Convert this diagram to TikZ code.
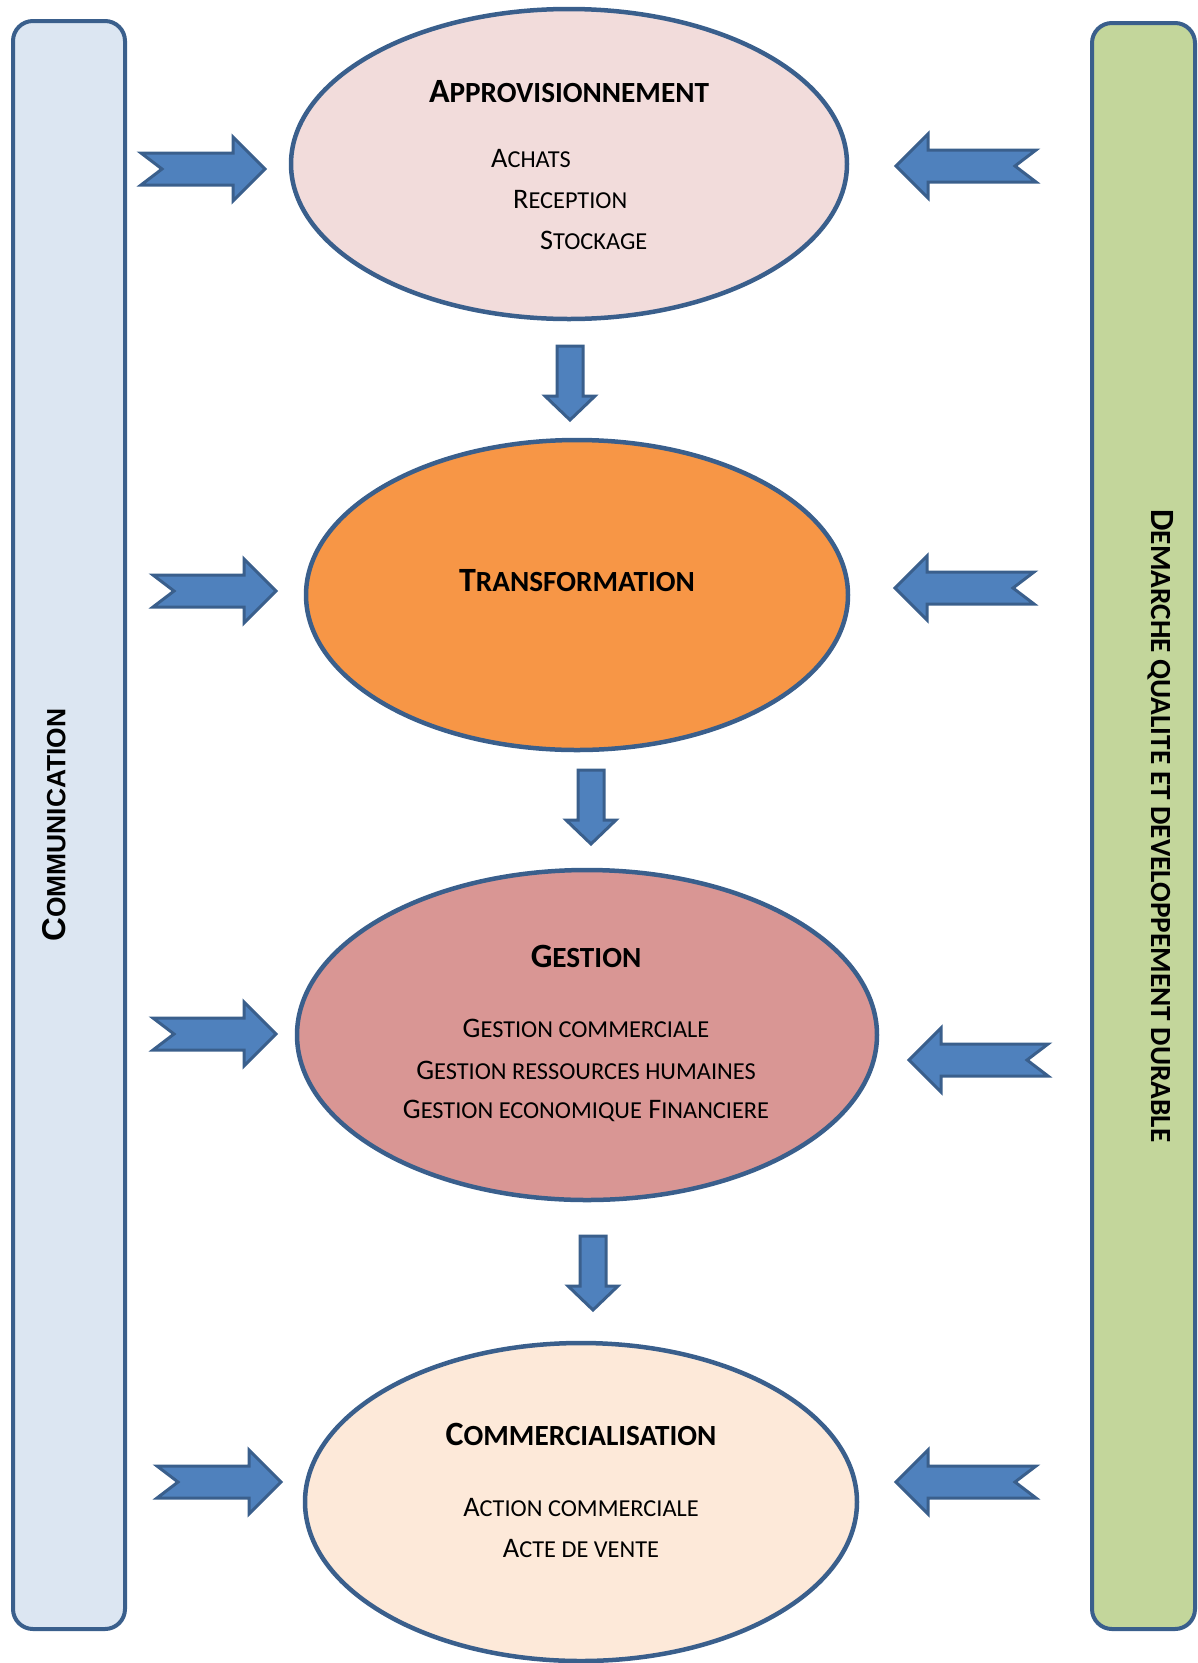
\documentclass[tikz,border=0pt]{standalone}
\usepackage{fontspec}
\setmainfont{Carlito}
\newfontfamily\arialfont{Liberation Sans}
\usetikzlibrary{shapes.geometric}

\definecolor{edgeblue}{HTML}{3A5F8C}
\definecolor{arrowfill}{HTML}{4F81BD}
\definecolor{barblue}{HTML}{DCE6F2}
\definecolor{bargreen}{HTML}{C3D69B}
\definecolor{approfill}{HTML}{F2DCDB}
\definecolor{transfofill}{HTML}{F79646}
\definecolor{gestfill}{HTML}{D99694}
\definecolor{commfill}{HTML}{FDE9D9}

% fake small capitals: first letter, then the rest smaller
\newcommand\fsc[3][0.86]{#2\scalebox{#1}{#3}}

\begin{document}
\begin{tikzpicture}
    [%%%%%%%%%%%%%%%%%%%%%%%%%%%%%%
        x=1pt,y=-1pt,
        sidebar/.style={draw=edgeblue,line width=4pt,rounded corners=20pt},
        stage/.style={ellipse,draw=edgeblue,line width=4.5pt,inner sep=0pt},
        arrowbody/.style={draw=edgeblue,fill=arrowfill,line width=3pt,line join=miter},
        head/.style={font=\fontsize{34}{39}\selectfont\bfseries,inner sep=0pt},
        item/.style={font=\fontsize{28.3}{33}\selectfont,inner sep=0pt},
        pics/notched/.style={code={
            \draw[arrowbody] (0,-16) -- (21,0) -- (0,16) -- (#1-32,16) -- (#1-32,32)
                -- (#1,0) -- (#1-32,-32) -- (#1-32,-16) -- cycle;}},
        pics/downarrow/.style={code={
            \draw[arrowbody] (-13,0) -- (13,0) -- (13,50) -- (25,50) -- (0,74)
                -- (-25,50) -- (-13,50) -- cycle;}},
    ]%%%%%%%%%%%%%%%%%%%%%%%%%%%%%%
\useasboundingbox (0,0) rectangle (1198,1663);

% side bars
\draw[sidebar,fill=barblue] (13,21) rectangle (125,1629);
\draw[sidebar,fill=bargreen] (1092,23) rectangle (1195,1629);
\node[rotate=90,inner sep=0pt,font=\arialfont\bfseries\fontsize{33}{38}\selectfont] (comm) at (54,825)
    {\fsc[0.8]{C}{OMMUNICATION}};
\node[rotate=-90,inner sep=0pt,font=\fontsize{34}{39}\selectfont\bfseries] (qualite) at (1161,826)
    {\fsc{D}{EMARCHE QUALITE ET DEVELOPPEMENT DURABLE}};

% stages
\node[stage,fill=approfill,minimum width=556pt,minimum height=310pt] (appro) at (569,164) {};
\node[stage,fill=transfofill,minimum width=542pt,minimum height=310pt] (transfo) at (577,595) {};
\node[stage,fill=gestfill,minimum width=580pt,minimum height=330pt] (gest) at (587,1035) {};
\node[stage,fill=commfill,minimum width=552pt,minimum height=318pt] (commerc) at (581,1502) {};

% texts
\node[head] (t1) at (569,92) {\fsc{A}{PPROVISIONNEMENT}};
\node[item,anchor=west] (t1a) at (491,158) {\fsc{A}{CHATS}};
\node[item,anchor=west] (t1b) at (513,199) {\fsc{R}{ECEPTION}};
\node[item,anchor=west] (t1c) at (540,240) {\fsc{S}{TOCKAGE}};

\node[head] (t2) at (577,581) {\fsc{T}{RANSFORMATION}};

\node[head] (t3) at (586,956) {\fsc{G}{ESTION}};
\node[item] (t3a) at (586,1028) {\fsc{G}{ESTION COMMERCIALE}};
\node[item] (t3b) at (586,1070) {\fsc{G}{ESTION RESSOURCES HUMAINES}};
\node[item] (t3c) at (586,1111) {\fsc{G}{ESTION ECONOMIQUE} \fsc{F}{INANCIERE}};

\node[head] (t4) at (581,1434) {\fsc{C}{OMMERCIALISATION}};
\node[item] (t4a) at (581,1507) {\fsc{A}{CTION COMMERCIALE}};
\node[item] (t4b) at (581,1548) {\fsc{A}{CTE DE VENTE}};

% arrows from the left bar
\pic at (141,169) {notched=124};
\pic at (153,591) {notched=123};
\pic at (153,1034) {notched=123};
\pic at (157,1482) {notched=124};

% arrows from the right bar
\pic[xscale=-1] at (1036,166) {notched=140};
\pic[xscale=-1] at (1034,588) {notched=139};
\pic[xscale=-1] at (1048,1060) {notched=139};
\pic[xscale=-1] at (1036,1482) {notched=140};

% arrows between stages
\pic at (570,346) {downarrow};
\pic at (591,770) {downarrow};
\pic at (593,1236) {downarrow};
\end{tikzpicture}
\end{document}
